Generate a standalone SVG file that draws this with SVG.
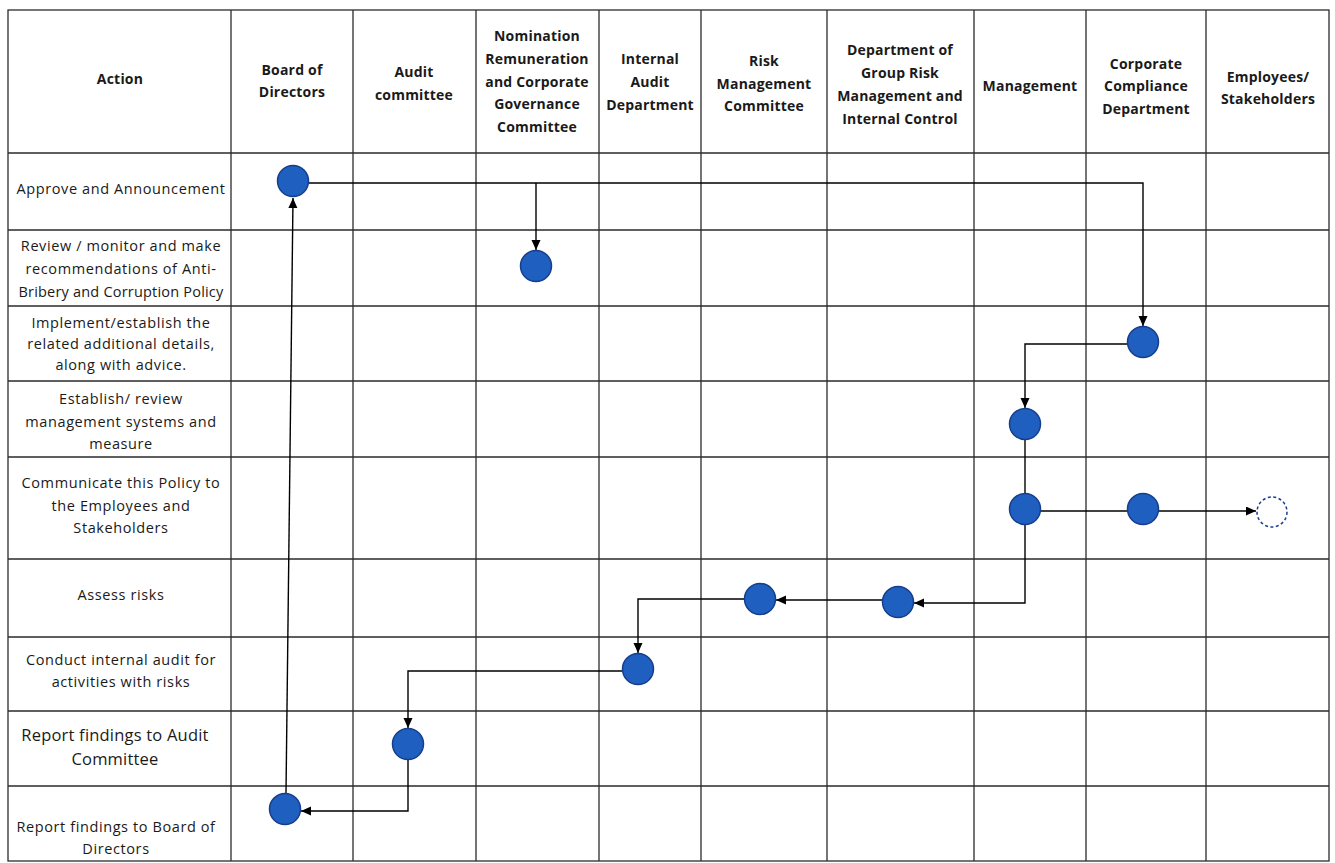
<svg xmlns="http://www.w3.org/2000/svg" width="1335" height="863" viewBox="0 0 1335 863">
<defs>
<marker id="arr" markerUnits="userSpaceOnUse" markerWidth="11" markerHeight="10" refX="10" refY="4.5" orient="auto">
<path d="M0,0 L10,4.5 L0,9 z" fill="#000"/>
</marker>
<style>
.grid{stroke:#2b2b2b;stroke-width:1.3;fill:none}
.hd{font-family:"Open Sans","Liberation Sans",sans-serif;font-weight:bold;font-size:14px;fill:#1a1a1a;text-anchor:middle;letter-spacing:0.2px}
.lb{font-family:"Open Sans","Liberation Sans",sans-serif;font-size:14.5px;fill:#1a1a1a;text-anchor:middle;letter-spacing:0.6px}
.tight{letter-spacing:0.2px}
.lb2{font-family:"Open Sans","Liberation Sans",sans-serif;font-size:16.5px;fill:#1a1a1a;text-anchor:middle;letter-spacing:0.2px}
.node{fill:#1f5fbf;stroke:#173e8c;stroke-width:1.5}
.ghost{fill:#fff;stroke:#173e8c;stroke-width:1.5;stroke-dasharray:3 2.5}
.con{stroke:#000;stroke-width:1.4;fill:none}
.arr{marker-end:url(#arr)}
</style>
</defs>
<rect width="1335" height="863" fill="#fff"/>
<g id="grid">
<rect class="grid" x="8" y="10" width="1321" height="851"/>
<path class="grid" d="M231,10V861 M353,10V861 M476,10V861 M599,10V861 M701,10V861 M827,10V861 M974,10V861 M1086,10V861 M1206,10V861"/>
<path class="grid" d="M8,153H1329 M8,230H1329 M8,306H1329 M8,381H1329 M8,457H1329 M8,559H1329 M8,637H1329 M8,711H1329 M8,786H1329"/>
</g>
<g id="headers">
<text class="hd" x="120" y="84">Action</text>
<text class="hd" x="292" y="75">Board of</text>
<text class="hd" x="292" y="97">Directors</text>
<text class="hd" x="414" y="77">Audit</text>
<text class="hd" x="414" y="100">committee</text>
<text class="hd" x="537" y="41">Nomination</text>
<text class="hd" x="537" y="64">Remuneration</text>
<text class="hd" x="537" y="87">and Corporate</text>
<text class="hd" x="537" y="109">Governance</text>
<text class="hd" x="537" y="132">Committee</text>
<text class="hd" x="650" y="64">Internal</text>
<text class="hd" x="650" y="87">Audit</text>
<text class="hd" x="650" y="110">Department</text>
<text class="hd" x="764" y="66">Risk</text>
<text class="hd" x="764" y="89">Management</text>
<text class="hd" x="764" y="111">Committee</text>
<text class="hd" x="900" y="55">Department of</text>
<text class="hd" x="900" y="78">Group Risk</text>
<text class="hd" x="900" y="101">Management and</text>
<text class="hd" x="900" y="124">Internal Control</text>
<text class="hd" x="1030" y="91">Management</text>
<text class="hd" x="1146" y="69">Corporate</text>
<text class="hd" x="1146" y="91">Compliance</text>
<text class="hd" x="1146" y="114">Department</text>
<text class="hd" x="1268" y="82">Employees/</text>
<text class="hd" x="1268" y="104">Stakeholders</text>
</g>
<g id="actions">
<text class="lb" x="121" y="194">Approve and Announcement</text>
<text class="lb" x="121" y="251">Review / monitor and make</text>
<text class="lb" x="121" y="274">recommendations of Anti-</text>
<text class="lb tight" x="121" y="297">Bribery and Corruption Policy</text>
<text class="lb" x="121" y="328">Implement/establish the</text>
<text class="lb" x="121" y="349">related additional details,</text>
<text class="lb" x="121" y="370">along with advice.</text>
<text class="lb" x="121" y="404">Establish/ review</text>
<text class="lb" x="121" y="427">management systems and</text>
<text class="lb" x="121" y="449">measure</text>
<text class="lb" x="121" y="488">Communicate this Policy to</text>
<text class="lb" x="121" y="511">the Employees and</text>
<text class="lb" x="121" y="533">Stakeholders</text>
<text class="lb" x="121" y="600">Assess risks</text>
<text class="lb" x="121" y="665">Conduct internal audit for</text>
<text class="lb" x="121" y="687">activities with risks</text>
<text class="lb2" x="115" y="741">Report findings to Audit</text>
<text class="lb2" x="115" y="765">Committee</text>
<text class="lb" x="116" y="832">Report findings to Board of</text>
<text class="lb" x="116" y="854">Directors</text>
</g>
<g id="connectors">
<path class="con arr" d="M308,183 H1143 V326"/>
<path class="con arr" d="M536,183 V250"/>
<path class="con arr" d="M1127,344 H1025 V408"/>
<path class="con" d="M1025,440 V493"/>
<path class="con arr" d="M1025,525 V603 H914"/>
<path class="con arr" d="M882,600 H776"/>
<path class="con arr" d="M744,599 H638 V653"/>
<path class="con arr" d="M622,671 H408 V728"/>
<path class="con arr" d="M408,760 V811 H301"/>
<path class="con arr" d="M286,793 L293,198"/>
<path class="con" d="M1041,511 H1127"/>
<path class="con arr" d="M1159,511 H1256"/>
</g>
<g id="n-bod-approve"><circle class="node" cx="293" cy="181" r="15.5"/></g>
<g id="n-nrcg-review"><circle class="node" cx="536" cy="266" r="15.5"/></g>
<g id="n-ccd-implement"><circle class="node" cx="1143" cy="342" r="15.5"/></g>
<g id="n-mgmt-establish"><circle class="node" cx="1025" cy="424" r="15.5"/></g>
<g id="n-mgmt-communicate"><circle class="node" cx="1025" cy="509" r="15.5"/></g>
<g id="n-ccd-communicate"><circle class="node" cx="1143" cy="509" r="15.5"/></g>
<g id="n-emp-communicate"><circle class="ghost" cx="1272" cy="512" r="15"/></g>
<g id="n-dgrm-assess"><circle class="node" cx="898" cy="602" r="15.5"/></g>
<g id="n-rmc-assess"><circle class="node" cx="760" cy="599" r="15.5"/></g>
<g id="n-iad-conduct"><circle class="node" cx="638" cy="669" r="15.5"/></g>
<g id="n-ac-report"><circle class="node" cx="408" cy="744" r="15.5"/></g>
<g id="n-bod-report"><circle class="node" cx="285" cy="809" r="15.5"/></g>
</svg>
